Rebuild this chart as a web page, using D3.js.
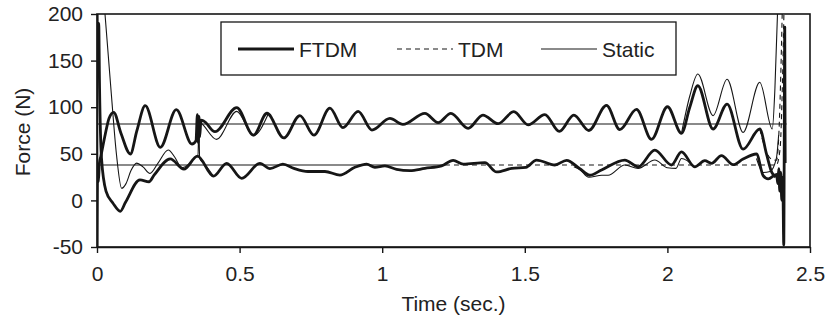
<!DOCTYPE html>
<html>
<head>
<meta charset="utf-8">
<script src="https://cdn.jsdelivr.net/npm/d3@7"></script>
<style>
body { margin: 0; background: #fff; }
svg { display: block; font-family: "Liberation Sans", Arial, sans-serif; }
</style>
</head>
<body>
<svg width="827" height="322"></svg>
<script>
var xTicks = [0, 0.5, 1, 1.5, 2, 2.5];
var yTicks = [-50, 0, 50, 100, 150, 200];
var seriesNames = ['FTDM', 'TDM', 'Static'];

var ftdmUpper = [
    [0, -50], [0.002, 30], [0.005, 20], [0.008, 39], [0.014, 48], [0.029, 71], [0.042, 88],
    [0.0585, 94.5], [0.084, 72], [0.117, 49.8], [0.14, 75], [0.169, 101.6], [0.222, 57],
    [0.278, 97.3], [0.333, 60.5], [0.347, 64], [0.352, 92], [0.355, 62], [0.3575, 90],
    [0.36, 68], [0.3645, 86], [0.375, 85], [0.4136, 73.7], [0.4897, 99.5], [0.5485, 70],
    [0.596, 93.5], [0.655, 67], [0.7115, 91], [0.7606, 70], [0.8167, 99], [0.8622, 78],
    [0.9159, 95.5], [0.9639, 75.5], [1.027, 88], [1.0726, 81.5], [1.1497, 93.4],
    [1.1963, 83.4], [1.2408, 93.4], [1.3014, 77.3], [1.353, 91.6], [1.4066, 82.3],
    [1.4616, 95.2], [1.5117, 81], [1.5703, 92], [1.6211, 74], [1.6719, 91.6], [1.7245, 75],
    [1.7865, 102], [1.8331, 76], [1.8917, 97.7], [1.9443, 65.5], [2.0003, 100.5],
    [2.0494, 72], [2.0785, 100], [2.1066, 123], [2.1602, 76.6], [2.2093, 103.4],
    [2.2654, 55], [2.3239, 76.6], [2.3474, 49.8], [2.366, 30], [2.38, 25]
];

var ftdmLower = [
    [0, 200], [0.003, 140], [0.006, 190], [0.009, 120], [0.0158, 45], [0.0315, 10],
    [0.056, -3], [0.0817, -11.7], [0.1, -2], [0.1507, 22], [0.1823, 20], [0.2, 27],
    [0.2568, 44.5], [0.3049, 33.5], [0.3523, 47.5], [0.4083, 26], [0.4546, 39.8],
    [0.5072, 23.7], [0.5713, 39.8], [0.6064, 34], [0.6519, 39], [0.6905, 34.4],
    [0.7396, 31], [0.7992, 31], [0.8518, 27.2], [0.9043, 35.5], [0.9453, 39],
    [0.9744, 35.5], [1.0095, 37], [1.0505, 33.4], [1.0971, 32], [1.1497, 34.4],
    [1.2082, 37], [1.2488, 43], [1.2839, 39], [1.36, 40.5], [1.401, 30.5], [1.4546, 34.4],
    [1.5037, 35.5], [1.5412, 43.3], [1.6054, 38], [1.6464, 43], [1.693, 34], [1.728, 27],
    [1.769, 32.6], [1.8507, 43.3], [1.8973, 36], [1.9559, 54], [2.0144, 38], [2.0494, 52],
    [2.096, 36], [2.1311, 42.6], [2.1545, 39.8], [2.1896, 48], [2.2303, 38.3],
    [2.2654, 44.4], [2.3123, 49.8], [2.3358, 26.5], [2.3533, 23], [2.3828, 28],
    [2.387, 18], [2.3905, 34], [2.394, 10], [2.3975, 30], [2.401, 0], [2.4045, 25],
    [2.408, -48], [2.4115, 186], [2.413, 40]
];

var tdmUpper = [
    [2.3239, 76.6], [2.3474, 52], [2.366, 44], [2.3828, 43], [2.392, 80], [2.398, 140],
    [2.4025, 200]
];

var tdmLower = [
    [1.22, 38], [2.382, 38], [2.395, 55], [2.402, 110], [2.4085, 200]
];

var staticUpper = [
    [0.3575, 86], [0.375, 80], [0.419, 65.5], [0.49, 95.5], [0.5485, 69.5], [0.6, 92.5],
    null,
    [2.0494, 72], [2.0785, 112], [2.1066, 135.6], [2.1602, 91], [2.2093, 130],
    [2.2654, 73], [2.3239, 126.7], [2.3677, 76.6], [2.377, 120], [2.386, 200]
];

var staticLower = [
    [0.028, 200], [0.05, 115], [0.068, 50], [0.0865, 13], [0.1017, 18], [0.1192, 32],
    [0.1392, 40], [0.1612, 36], [0.1858, 29], [0.214, 40], [0.2499, 54], [0.2734, 46],
    [0.2968, 35], [0.3259, 40], [0.3494, 47], [0.3541, 47], [0.357, 84], [0.3599, 45],
    [0.38, 38], [0.4083, 26],
    null,
    [1.6719, 36], [1.693, 33], [1.7245, 24.8], [1.77, 27], [1.792, 27], [1.8507, 38],
    [1.8973, 34.4], [1.9559, 43.3], [2.0, 35], [2.03, 34.4], [2.0494, 45], [2.096, 36],
    null,
    [2.3123, 45], [2.3358, 30], [2.36, 31], [2.382, 45], [2.39, 70]
];

var refLines = [
    { level: 82, from: 0, to: 2.418, dashed: false },
    { level: 38, from: 0, to: 1.22, dashed: false }
];

var svg = d3.select('svg');
var plotLeft = 97, plotRight = 810, plotTop = 14, plotBottom = 247;
var ink = '#161616';
var fontSize = '21px';

var x = d3.scaleLinear().domain([0, 2.5]).range([plotLeft, plotRight]);
var y = d3.scaleLinear().domain([-50, 200]).range([plotBottom, plotTop]);

svg.append('clipPath').attr('id', 'plot')
    .append('rect')
    .attr('x', plotLeft).attr('y', plotTop)
    .attr('width', plotRight - plotLeft).attr('height', plotBottom - plotTop);

var line = d3.line()
    .defined(d => d !== null)
    .x(d => x(d[0]))
    .y(d => y(d[1]))
    .curve(d3.curveMonotoneX);

var g = svg.append('g').attr('clip-path', 'url(#plot)');

g.selectAll('line.ref')
    .data(refLines)
    .enter().append('line')
    .attr('class', 'ref')
    .attr('x1', d => x(d.from))
    .attr('x2', d => x(d.to))
    .attr('y1', d => y(d.level))
    .attr('y2', d => y(d.level))
    .attr('stroke', ink)
    .attr('stroke-width', 1.1)
    .attr('stroke-dasharray', d => d.dashed ? '5,4' : null);

var paths = [
    { data: tdmLower, width: 1.1, dash: '5,4' },
    { data: tdmUpper, width: 1.1, dash: '5,4' },
    { data: staticUpper, width: 1.1, dash: null },
    { data: staticLower, width: 1.1, dash: null },
    { data: ftdmUpper, width: 2.8, dash: null },
    { data: ftdmLower, width: 2.8, dash: null }
];

g.selectAll('path.series')
    .data(paths)
    .enter().append('path')
    .attr('class', 'series')
    .attr('d', d => line(d.data))
    .attr('fill', 'none')
    .attr('stroke', ink)
    .attr('stroke-width', d => d.width)
    .attr('stroke-dasharray', d => d.dash)
    .attr('stroke-linejoin', 'round');

svg.append('rect')
    .attr('x', plotLeft).attr('y', plotTop)
    .attr('width', plotRight - plotLeft).attr('height', plotBottom - plotTop)
    .attr('fill', 'none')
    .attr('stroke', ink)
    .attr('stroke-width', 1.6);

var xAxis = d3.axisBottom(x)
    .tickValues(xTicks)
    .tickSize(6)
    .tickSizeOuter(0)
    .tickPadding(13)
    .tickFormat(d => String(d));

var yAxis = d3.axisLeft(y)
    .tickValues(yTicks)
    .tickSize(6)
    .tickSizeOuter(0)
    .tickPadding(8)
    .tickFormat(d => String(d));

var gx = svg.append('g').attr('transform', 'translate(0,' + plotBottom + ')').call(xAxis);
var gy = svg.append('g').attr('transform', 'translate(' + plotLeft + ',0)').call(yAxis);

[gx, gy].forEach(a => {
    a.select('.domain').attr('stroke', ink).attr('stroke-width', 1.6);
    a.selectAll('.tick line').attr('stroke', ink).attr('stroke-width', 1.4);
    a.selectAll('.tick text')
        .attr('fill', '#222')
        .style('font-size', fontSize)
        .style('font-family', '"Liberation Sans", Arial, sans-serif');
});

svg.append('text')
    .attr('x', (plotLeft + plotRight) / 2)
    .attr('y', 311)
    .attr('text-anchor', 'middle')
    .attr('fill', '#222')
    .style('font-size', fontSize)
    .text('Time (sec.)');

svg.append('text')
    .attr('transform', 'translate(30,132) rotate(-90)')
    .attr('text-anchor', 'middle')
    .attr('fill', '#222')
    .style('font-size', fontSize)
    .text('Force (N)');

var legend = svg.append('g');
legend.append('rect')
    .attr('x', 221).attr('y', 22)
    .attr('width', 455).attr('height', 53)
    .attr('fill', '#fff')
    .attr('stroke', ink)
    .attr('stroke-width', 1.3);

var legendItems = [
    { name: seriesNames[0], x: 238, width: 2.8, dash: null },
    { name: seriesNames[1], x: 397, width: 1.1, dash: '5,4' },
    { name: seriesNames[2], x: 541, width: 1.1, dash: null }
];

var item = legend.selectAll('g.item')
    .data(legendItems)
    .enter().append('g')
    .attr('class', 'item')
    .attr('transform', d => 'translate(' + d.x + ',49)');

item.append('line')
    .attr('x1', 0).attr('x2', 56)
    .attr('stroke', ink)
    .attr('stroke-width', d => d.width)
    .attr('stroke-dasharray', d => d.dash);

item.append('text')
    .attr('x', 61)
    .attr('y', 7.5)
    .attr('fill', '#222')
    .style('font-size', fontSize)
    .text(d => d.name);
</script>
</body>
</html>
